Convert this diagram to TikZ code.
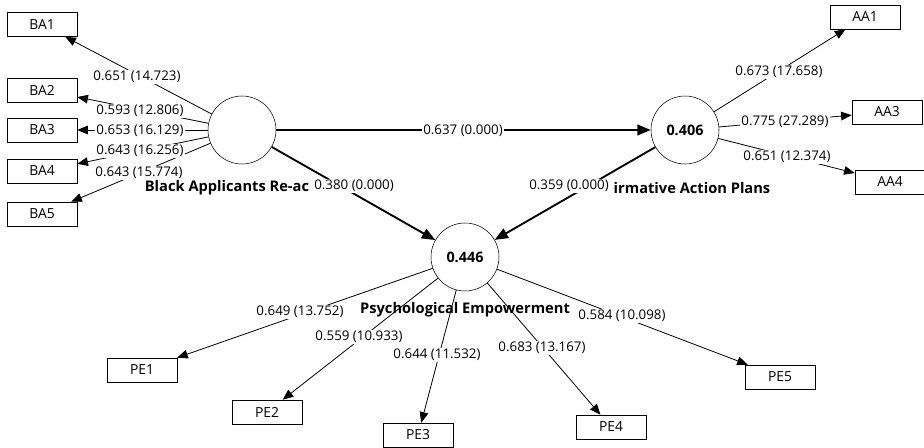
\documentclass[tikz,border=0pt]{standalone}
\usepackage{fontspec}
\setmainfont{Open Sans}
\usetikzlibrary{arrows.meta}

\begin{document}
\begin{tikzpicture}[x=0.75pt,y=-0.75pt,
  font=\fontsize{10}{12}\selectfont,
  indicator/.style={draw, minimum width=52.5pt, minimum height=18pt, inner sep=0pt, font=\fontsize{10.4}{12}\selectfont},
  construct/.style={draw, circle, fill=white, minimum size=51pt, inner sep=0pt, font=\fontsize{10.8}{12}\selectfont\bfseries},
  loading/.style={-{Triangle[length=8pt,width=6.5pt]}, line width=0.6pt},
  structpath/.style={-{Triangle[length=10pt,width=8pt]}, line width=1.4pt},
  weight/.style={fill=white, inner sep=1pt},
  cname/.style={font=\fontsize{11}{13}\selectfont\bfseries, inner sep=1pt}]

\useasboundingbox (0,0) rectangle (924,447);

% latent variables
\node[construct] (BA) at (242,130) {};
\node[construct] (AA) at (685,130) {0.406};
\node[construct] (PE) at (465,257) {0.446};

% indicators
\foreach \name/\x/\y in {BA1/42/24.5, BA2/42/90, BA3/42/130, BA4/42/171, BA5/42/214,
                         AA1/865/17, AA3/887/112, AA4/890/182,
                         PE1/142/370, PE2/267/412, PE3/418/435, PE4/611/427, PE5/780/377}
    \node[indicator] (\name) at (\x,\y) {\name};

% outer loadings
\foreach \name in {BA1, BA2, BA3, BA4, BA5}
    \draw[loading] (BA) -- (\name);
\foreach \name in {AA1, AA3, AA4}
    \draw[loading] (AA) -- (\name);
\foreach \name in {PE1, PE2, PE3, PE4, PE5}
    \draw[loading] (PE) -- (\name);

% inner model
\draw[structpath] (BA) -- (AA);
\draw[structpath] (BA) -- (PE);
\draw[structpath] (AA) -- (PE);

% coefficients (t values)
\foreach \name/\x/\y/\txt in {BA1/137/77/{0.651 (14.723)}, BA2/140/111/{0.593 (12.806)},
                              BA3/140/131/{0.653 (16.129)}, BA4/140/151/{0.643 (16.256)},
                              BA5/139/173/{0.643 (15.774)},
                              AA1/779/72/{0.673 (17.658)}, AA3/785/122/{0.775 (27.289)},
                              AA4/787/157/{0.651 (12.374)},
                              PE1/300/312/{0.649 (13.752)}, PE2/359/337/{0.559 (10.933)},
                              PE3/437/355/{0.644 (11.532)}, PE4/542/348/{0.683 (13.167)},
                              PE5/622/316/{0.584 (10.098)},
                              BAAA/463/131/{0.637 (0.000)}, BAPE/354/186/{0.380 (0.000)},
                              AAPE/569/186/{0.359 (0.000)}}
    \node[weight] (w\name) at (\x,\y) {\txt};

% construct names
\node[cname] (nBA) at (227,188) {Black Applicants Re-ac};
\node[cname] (nAA) at (692,188) {irmative Action Plans};
\node[cname] (nPE) at (465,310) {Psychological Empowerment};
\end{tikzpicture}
\end{document}
